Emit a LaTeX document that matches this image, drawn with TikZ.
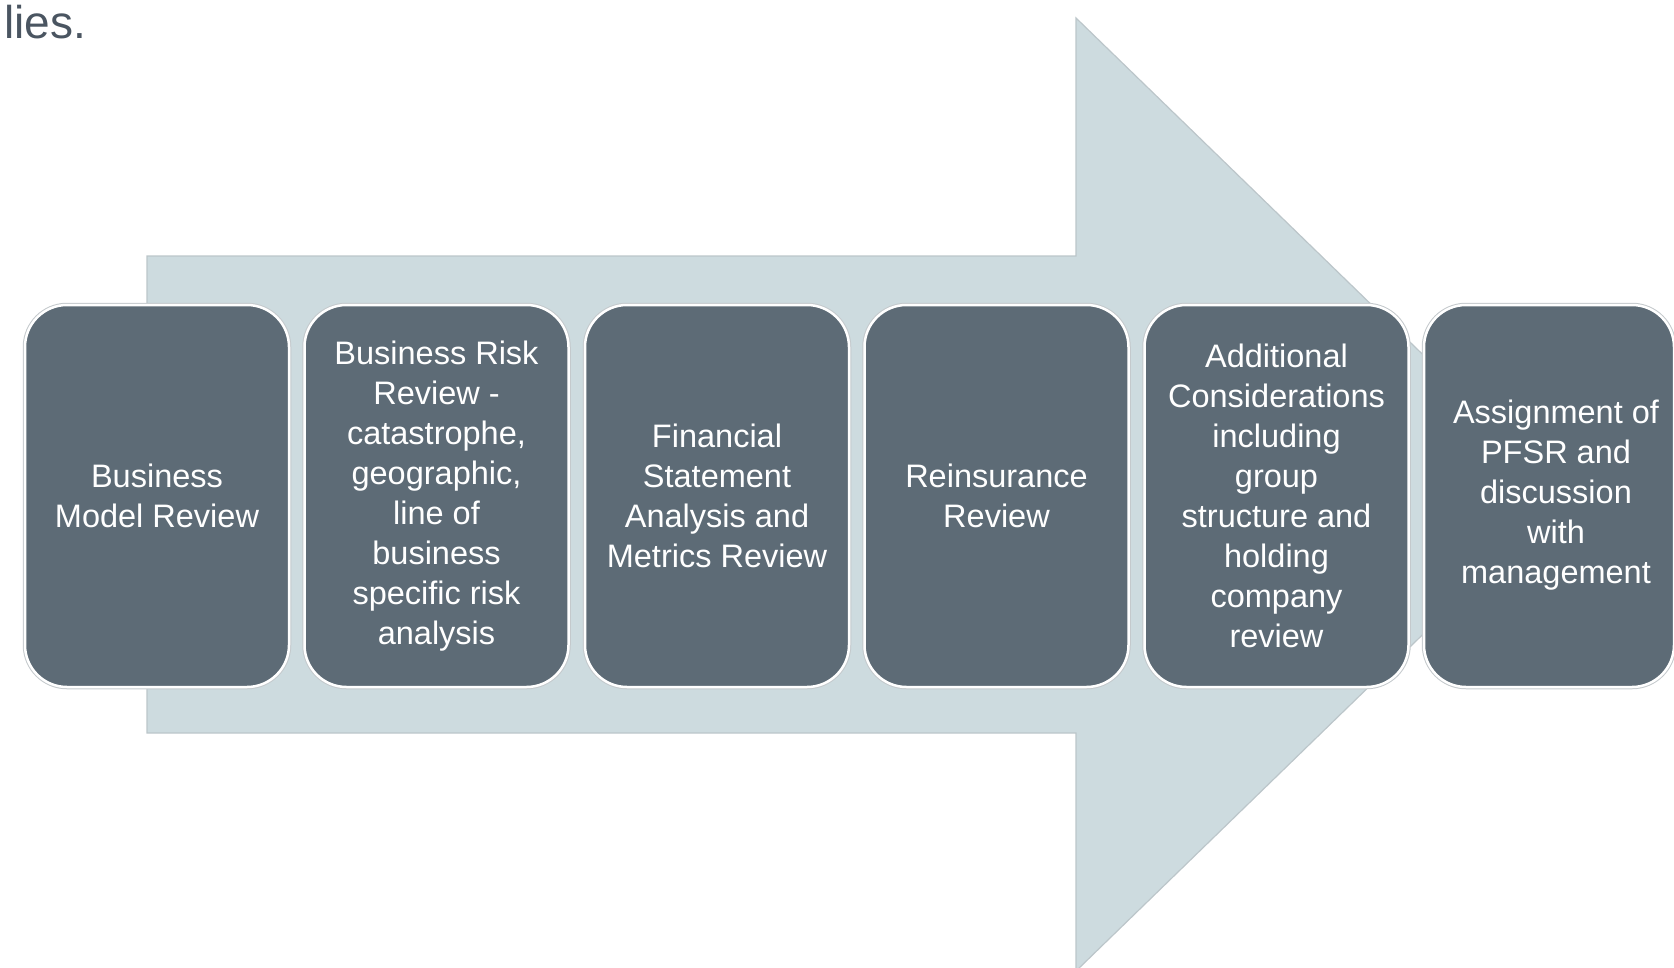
\documentclass[tikz,border=0pt]{standalone}
\usepackage{fontspec}
\setmainfont{Liberation Sans}
\definecolor{boxfill}{HTML}{5D6B76}
\definecolor{arrowfill}{HTML}{CDDBDF}
\definecolor{arrowline}{HTML}{BCC6CA}
\definecolor{halo}{HTML}{C4C9CC}
\definecolor{headtext}{HTML}{4A5561}
\begin{document}
\begin{tikzpicture}[x=1pt,y=-1pt,
  stepbox/.style={rectangle, rounded corners=42pt, fill=boxfill,
    draw=white, line width=2.5pt,
    preaction={draw=halo, line width=4.5pt},
    minimum width=264pt, minimum height=382pt, inner sep=0pt},
  steptext/.style={text=white, align=center, inner sep=0pt,
    font=\fontsize{32.5}{40}\selectfont}]
  \useasboundingbox (0,0) rectangle (1674,967);
  \clip (0,0) rectangle (1674,967);

  % heading fragment
  \node[anchor=base west, inner sep=0pt, text=headtext,
    font=\fontsize{46}{54}\selectfont] (head) at (4,38) {lies.};

  % background block arrow
  \draw[fill=arrowfill, draw=arrowline, line width=1.2pt]
    (147,256) -- (1076,256) -- (1076,18) -- (1567,494.5)
    -- (1076,971) -- (1076,733) -- (147,733) -- cycle;

  % process steps: rounded boxes with their captions
  \node[stepbox] (b1) at (157,496) {};
  \node[steptext] (t1) at (157,495.5) {Business\\Model Review};
  \node[stepbox] (b2) at (436.5,496) {};
  \node[steptext] (t2) at (436.5,496) {Business Risk\\Review -\\catastrophe,\\geographic,\\line of\\business\\specific risk\\analysis};
  \node[stepbox] (b3) at (717,496) {};
  \node[steptext] (t3) at (717,495.5) {Financial\\Statement\\Analysis and\\Metrics Review};
  \node[stepbox] (b4) at (996.5,496) {};
  \node[steptext] (t4) at (996.5,495.5) {Reinsurance\\Review};
  \node[stepbox] (b5) at (1276.5,496) {};
  \node[steptext] (t5) at (1276.5,495.5) {Additional\\Considerations\\including\\group\\structure and\\holding\\company\\review};
  \node[stepbox, minimum width=250pt] (b6) at (1549,496) {};
  \node[steptext] (t6) at (1556,495.5) {Assignment of\\PFSR and\\discussion\\with\\management};
\end{tikzpicture}
\end{document}
